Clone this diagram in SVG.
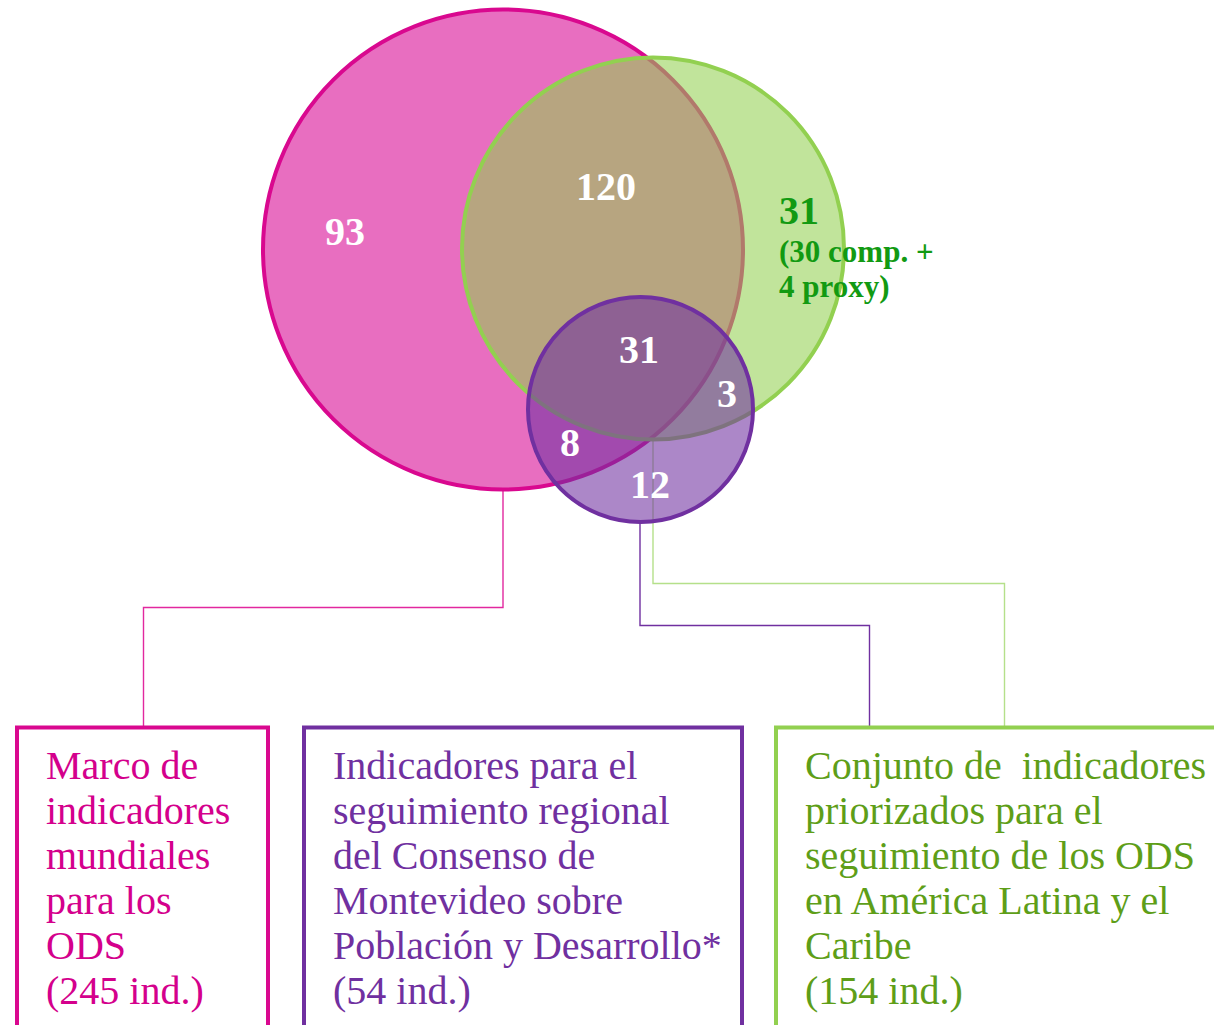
<svg xmlns="http://www.w3.org/2000/svg" width="1214" height="1025" viewBox="0 0 1214 1025">
<style>
.conn{fill:none;stroke-width:1.4}
.num{font-family:"Liberation Serif",serif;font-weight:bold;font-size:40px;fill:#ffffff;text-anchor:middle}
.box{fill:#ffffff;stroke-width:4}
.lbl{font-family:"Liberation Serif",serif;font-size:40px}
.g{font-family:"Liberation Serif",serif;font-weight:bold;fill:#129a12}
</style>
<rect width="1214" height="1025" fill="#ffffff"/>
<g id="connectors">
<path class="conn" d="M503,490 V607.5 H143.5 V727" stroke="#e2289f"/>
<path class="conn" d="M640,522 V625.5 H869.5 V727" stroke="#7030a0"/>
<path class="conn" d="M653,440 V583.5 H1004.5 V727" stroke="#b5e08a"/>
</g>
<g id="circle-mundial">
<circle cx="503" cy="249.5" r="240" fill="#e86ec0" stroke="#d9088f" stroke-width="4"/>
</g>
<g id="circle-priorizados">
<circle cx="653" cy="248.5" r="191" fill="#92d050" fill-opacity="0.57" stroke="#92d050" stroke-width="4"/>
</g>
<g id="circle-montevideo">
<circle cx="640.5" cy="409.5" r="112.5" fill="#7030a0" fill-opacity="0.58" stroke="#7030a0" stroke-width="4"/>
</g>
<g id="labels">
<text class="num" x="345" y="245">93</text>
<text class="num" x="606" y="200">120</text>
<text class="num" x="639" y="363">31</text>
<text class="num" x="727" y="407">3</text>
<text class="num" x="570" y="456">8</text>
<text class="num" x="650" y="498">12</text>
<text class="g" x="779" y="224" font-size="40">31</text>
<text class="g" x="779" y="262" font-size="31">(30 comp. +</text>
<text class="g" x="779" y="297" font-size="31">4 proxy)</text>
</g>
<g id="box-mundial">
<rect class="box" x="17" y="727.5" width="251" height="400" stroke="#d9088f"/>
<text class="lbl" fill="#d4008c">
<tspan x="46" y="779">Marco de</tspan>
<tspan x="46" y="824">indicadores</tspan>
<tspan x="46" y="869">mundiales</tspan>
<tspan x="46" y="914">para los</tspan>
<tspan x="46" y="959">ODS</tspan>
<tspan x="46" y="1004">(245 ind.)</tspan>
</text>
</g>
<g id="box-montevideo">
<rect class="box" x="304" y="727.5" width="438" height="400" stroke="#7030a0"/>
<text class="lbl" fill="#7030a0">
<tspan x="333" y="779">Indicadores para el</tspan>
<tspan x="333" y="824">seguimiento regional</tspan>
<tspan x="333" y="869">del Consenso de</tspan>
<tspan x="333" y="914">Montevideo sobre</tspan>
<tspan x="333" y="959">Población y Desarrollo*</tspan>
<tspan x="333" y="1004">(54 ind.)</tspan>
</text>
</g>
<g id="box-priorizados">
<rect class="box" x="776" y="727.5" width="460" height="400" stroke="#92d050"/>
<text class="lbl" fill="#5e9e18" xml:space="preserve"><tspan x="805" y="779">Conjunto de  indicadores</tspan><tspan x="805" y="824">priorizados para el</tspan><tspan x="805" y="869">seguimiento de los ODS</tspan><tspan x="805" y="914">en América Latina y el</tspan><tspan x="805" y="959">Caribe</tspan><tspan x="805" y="1004">(154 ind.)</tspan></text>
</g>
</svg>
